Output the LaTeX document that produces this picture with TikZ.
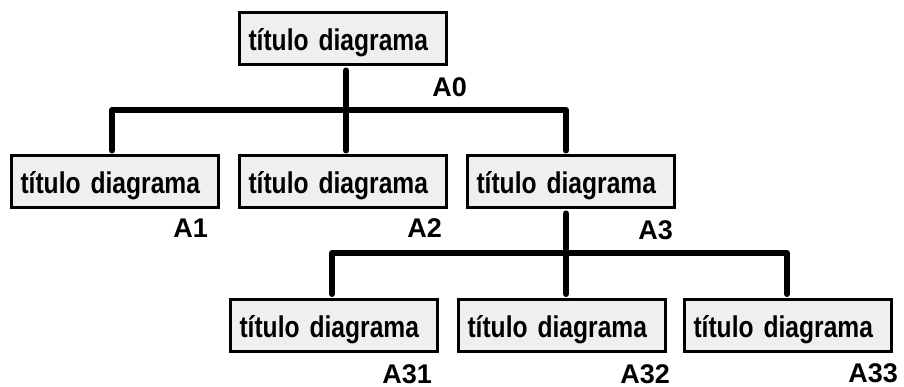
\documentclass[tikz,border=0pt]{standalone}
\usepackage{fontspec}
\setmainfont{Liberation Sans}
\newfontfamily\boxfont{Liberation Sans}[FakeStretch=0.82]
\definecolor{boxfill}{RGB}{239,239,239}
\tikzset{
  fbox/.style={draw=black, line width=3pt, fill=boxfill, minimum height=52pt,
    text width=189pt, inner xsep=9pt, inner ysep=0pt, align=left,
    text height=23pt, text depth=0pt,
    font=\boxfont\bfseries\fontsize{30}{36}\selectfont},
  lbl/.style={anchor=base east, inner sep=0pt, font=\bfseries\fontsize{27}{32}\selectfont},
  conn/.style={line width=6pt, line cap=round, line join=round, shorten <=4pt, shorten >=4pt}
}
\begin{document}
\begin{tikzpicture}[x=1pt,y=-1pt]
\useasboundingbox (0,0) rectangle (904,387);
% boxes
\node[fbox] (top) at (343,39) {título diagrama};
\node[fbox] (b1) at (115,182) {título diagrama};
\node[fbox] (b2) at (343,182) {título diagrama};
\node[fbox] (b3) at (571,182) {título diagrama};
\node[fbox] (c1) at (334,325.5) {título diagrama};
\node[fbox] (c2) at (562,325.5) {título diagrama};
\node[fbox] (c3) at (788,325.5) {título diagrama};
% labels
\node[lbl] (l0) at (467,97) {A0};
\node[lbl] (l1) at (208,238) {A1};
\node[lbl] (l2) at (442,238) {A2};
\node[lbl] (l3) at (673,240) {A3};
\node[lbl] (l31) at (432,383) {A31};
\node[lbl] (l32) at (670,383) {A32};
\node[lbl] (l33) at (898,382) {A33};
% junctions
\coordinate (j1) at (346,110);
\coordinate (j2) at (566,253);
% connectors
\draw[conn] ([xshift=3pt]top.south) -- ([xshift=3pt]b2.north);
\draw[conn] ([xshift=-3pt]b1.north) |- (j1) -| ([xshift=-5pt]b3.north);
\draw[conn] ([xshift=-5pt]b3.south) -- ([xshift=4pt]c2.north);
\draw[conn] ([xshift=-2pt]c1.north) |- (j2) -| ([xshift=-1pt]c3.north);
\end{tikzpicture}
\end{document}
